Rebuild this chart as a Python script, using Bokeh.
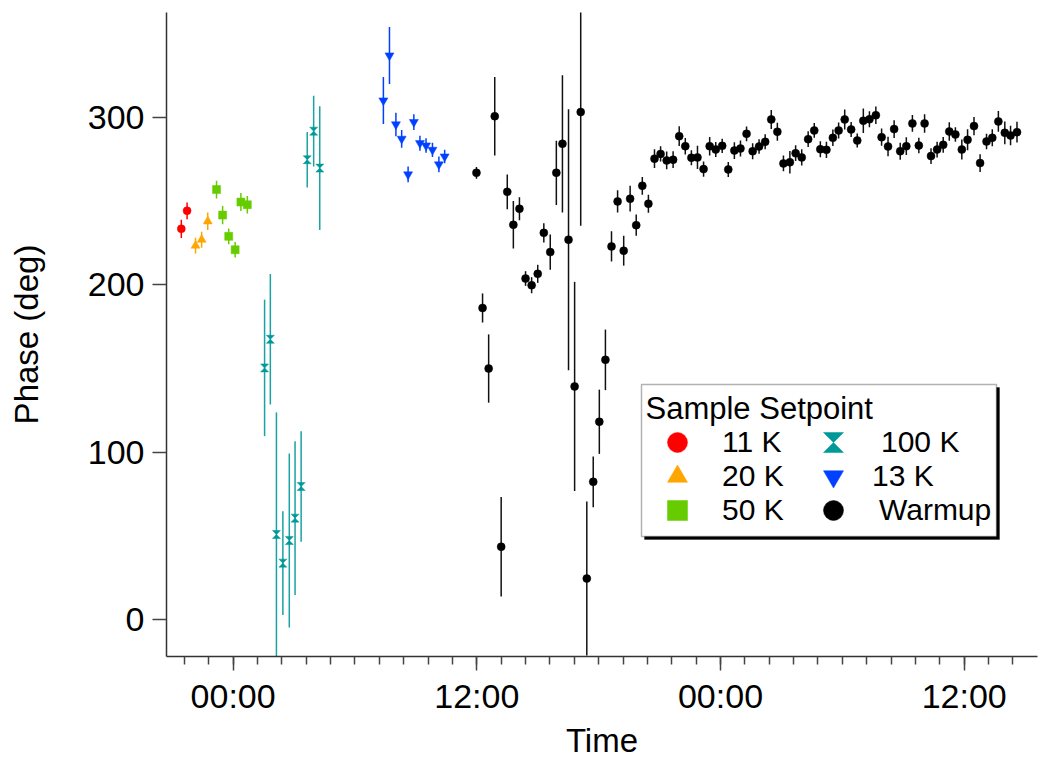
import numpy as np
import pandas as pd
from bokeh.plotting import figure
from bokeh.models import (Range1d, FixedTicker, DatetimeTickFormatter, Legend, LegendItem,
                          BoxAnnotation, Label, CustomJS)
from bokeh.embed import file_html
from bokeh.resources import INLINE

# ---------------- data ----------------
t_11K = ["2021-02-28 21:27", "2021-02-28 21:44"]
v_11K = [233.5, 244.3]
e_11K = [5.5, 5.0]

t_20K = ["2021-02-28 22:09", "2021-02-28 22:27", "2021-02-28 22:45"]
v_20K = [223.5, 227.0, 238.0]
e_20K = [4.7, 4.8, 5.2]

t_50K = ["2021-02-28 23:11", "2021-02-28 23:29", "2021-02-28 23:47",
         "2021-03-01 00:06", "2021-03-01 00:23", "2021-03-01 00:42"]
v_50K = [257.0, 241.7, 229.0, 221.0, 249.5, 247.9]
e_50K = [5.3, 5.5, 4.7, 4.7, 5.4, 5.2]

t_100K = ["2021-03-01 01:33", "2021-03-01 01:50", "2021-03-01 02:08", "2021-03-01 02:27",
          "2021-03-01 02:46", "2021-03-01 03:03", "2021-03-01 03:21", "2021-03-01 03:39",
          "2021-03-01 03:58", "2021-03-01 04:16"]
v_100K = [150.4, 167.5, 50.8, 33.7, 47.2, 60.6, 79.5, 274.8, 291.9, 269.8]
e_100K = [40.8, 39.0, 73.0, 31.0, 52.0, 46.0, 33.0, 16.6, 21.2, 37.0]

t_13K = ["2021-03-01 07:24", "2021-03-01 07:42", "2021-03-01 08:01", "2021-03-01 08:18",
         "2021-03-01 08:37", "2021-03-01 08:54", "2021-03-01 09:12", "2021-03-01 09:30",
         "2021-03-01 09:49", "2021-03-01 10:08", "2021-03-01 10:25"]
v_13K = [310.2, 337.1, 295.9, 287.3, 266.0, 297.3, 284.7, 283.3, 280.7, 272.0, 276.7]
e_13K = [14.0, 17.1, 7.0, 5.3, 4.7, 4.7, 4.5, 4.3, 4.3, 4.7, 4.0]

t_warm = [
    "2021-03-01 11:59", "2021-03-01 12:17", "2021-03-01 12:35", "2021-03-01 12:53",
    "2021-03-01 13:12", "2021-03-01 13:30", "2021-03-01 13:48", "2021-03-01 14:06",
    "2021-03-01 14:24", "2021-03-01 14:42", "2021-03-01 15:00", "2021-03-01 15:18",
    "2021-03-01 15:37", "2021-03-01 15:55", "2021-03-01 16:13", "2021-03-01 16:31",
    "2021-03-01 16:49", "2021-03-01 17:07", "2021-03-01 17:25", "2021-03-01 17:44",
    "2021-03-01 18:02", "2021-03-01 18:20", "2021-03-01 18:38", "2021-03-01 18:56",
    "2021-03-01 19:14", "2021-03-01 19:33", "2021-03-01 19:51", "2021-03-01 20:09",
    "2021-03-01 20:27", "2021-03-01 20:45", "2021-03-01 21:03", "2021-03-01 21:21",
    "2021-03-01 21:40", "2021-03-01 21:58", "2021-03-01 22:16", "2021-03-01 22:34",
    "2021-03-01 22:52", "2021-03-01 23:10", "2021-03-01 23:28", "2021-03-01 23:46",
    "2021-03-02 00:05", "2021-03-02 00:23", "2021-03-02 00:41", "2021-03-02 00:59",
    "2021-03-02 01:17", "2021-03-02 01:35", "2021-03-02 01:54", "2021-03-02 02:12",
    "2021-03-02 02:30", "2021-03-02 02:48", "2021-03-02 03:06", "2021-03-02 03:25",
    "2021-03-02 03:42", "2021-03-02 04:00", "2021-03-02 04:19", "2021-03-02 04:37",
    "2021-03-02 04:55", "2021-03-02 05:13", "2021-03-02 05:32", "2021-03-02 05:49",
    "2021-03-02 06:07", "2021-03-02 06:26", "2021-03-02 06:44", "2021-03-02 07:02",
    "2021-03-02 07:20", "2021-03-02 07:39", "2021-03-02 07:56", "2021-03-02 08:15",
    "2021-03-02 08:33", "2021-03-02 08:51", "2021-03-02 09:09", "2021-03-02 09:27",
    "2021-03-02 09:46", "2021-03-02 10:03", "2021-03-02 10:22", "2021-03-02 10:40",
    "2021-03-02 10:58", "2021-03-02 11:16", "2021-03-02 11:34", "2021-03-02 11:53",
    "2021-03-02 12:10", "2021-03-02 12:29", "2021-03-02 12:47", "2021-03-02 13:06",
    "2021-03-02 13:23", "2021-03-02 13:41", "2021-03-02 14:00", "2021-03-02 14:17",
    "2021-03-02 14:36"]
v_warm = [
    267.0, 186.2, 150.0, 300.8, 43.5, 255.6, 235.9, 245.5, 203.8, 199.8,
    206.6, 231.1, 219.6, 267.0, 284.3, 227.0, 139.3, 303.3, 24.5, 82.3,
    118.2, 155.2, 223.0, 249.9, 220.4, 251.5, 235.7, 259.2, 248.5, 275.4,
    278.3, 274.4, 274.8, 288.9, 282.9, 276.0, 276.2, 269.2, 282.9, 280.9,
    283.1, 269.0, 280.3, 281.5, 290.3, 279.9, 282.7, 285.5, 298.9, 291.5,
    272.6, 273.3, 278.7, 276.2, 287.1, 292.3, 281.1, 280.7, 287.9, 292.3,
    298.9, 292.9, 286.3, 298.1, 299.0, 301.4, 288.3, 282.7, 293.1, 279.9,
    282.9, 296.5, 283.3, 296.5, 277.0, 280.9, 283.7, 291.7, 289.9, 280.9,
    286.7, 294.9, 272.8, 285.7, 287.9, 297.7, 290.9, 289.3, 291.3]
e_warm = [
    3.5, 8.7, 20.4, 23.4, 29.7, 10.4, 14.2, 6.9, 4.4, 4.8,
    5.4, 5.7, 10.5, 19.2, 41.0, 78.0, 62.5, 68.0, 46.0, 15.2,
    19.2, 18.1, 9.0, 6.7, 8.9, 7.7, 6.4, 5.3, 5.4, 5.6,
    4.5, 5.3, 5.0, 5.9, 4.9, 4.5, 6.9, 4.5, 5.5, 4.5,
    4.3, 4.5, 5.0, 4.8, 4.4, 4.8, 4.3, 4.5, 5.7, 5.4,
    4.7, 6.7, 4.7, 4.8, 4.7, 4.4, 4.8, 4.9, 4.9, 4.8,
    6.0, 4.5, 4.2, 7.3, 4.8, 5.2, 5.2, 5.8, 5.3, 5.1,
    5.3, 5.0, 4.6, 5.5, 4.7, 4.7, 4.7, 5.5, 4.3, 6.0,
    6.3, 5.5, 5.3, 4.7, 5.1, 6.2, 6.8, 5.8, 6.2]

y_ticks = [0, 100, 200, 300]
x_major = ["2021-03-01 00:00", "2021-03-01 12:00", "2021-03-02 00:00", "2021-03-02 12:00"]

# ---------------- figure ----------------
FONT = "Liberation Sans"
W, H = 1043, 762
FL, FR, FT, FB = 166, 1037, 12, 656          # frame edges on the page
Y0, Y1 = -22.1, 362.8

def to_ms(ts):
    return ((pd.to_datetime(ts) - pd.Timestamp("1970-01-01")) // pd.Timedelta("1ms")).tolist()

day1 = pd.Timestamp("2021-03-01 00:00")
x_start = day1 - pd.Timedelta(hours=3.28)
x_end = day1 + pd.Timedelta(hours=39.61)

p = figure(width=W, height=H, x_axis_type="datetime", output_backend="svg",
           toolbar_location=None,
           x_range=Range1d(x_start, x_end), y_range=Range1d(Y0, Y1),
           min_border_left=FL, min_border_right=W - FR, min_border_top=FT,
           min_border_bottom=H - FB)
p.outline_line_color = None
p.xgrid.grid_line_color = None
p.ygrid.grid_line_color = None

major_ms = to_ms(x_major)
minor_ms = to_ms(pd.date_range("2021-02-28 21:36", periods=35, freq="72min"))
p.xaxis.ticker = FixedTicker(ticks=major_ms, minor_ticks=minor_ms)
p.xaxis.formatter = DatetimeTickFormatter(hours="%H:%M", hourmin="%H:%M", days="%H:%M",
                                          minutes="%H:%M", months="%H:%M", years="%H:%M")
p.yaxis.ticker = FixedTicker(ticks=y_ticks, minor_ticks=[])
for ax in (p.xaxis[0], p.yaxis[0]):
    ax.axis_line_color = "#333333"
    ax.axis_line_width = 1.5
    ax.major_tick_line_color = "#444444"
    ax.major_tick_line_width = 1.5
    ax.major_tick_out = 14
    ax.major_tick_in = 0
    ax.major_label_text_font = FONT
    ax.major_label_text_font_size = "34px"
    ax.major_label_text_color = "black"
    ax.axis_label_text_font = FONT
    ax.axis_label_text_font_size = "33px"
    ax.axis_label_text_font_style = "normal"
    ax.axis_label_text_color = "black"
p.xaxis.minor_tick_line_color = "#444444"
p.xaxis.minor_tick_line_width = 1.5
p.xaxis.minor_tick_out = 8
p.xaxis.minor_tick_in = 0
p.yaxis.minor_tick_line_color = None
p.xaxis.axis_label = "Time"
p.yaxis.axis_label = "Phase (deg)"
p.xaxis.major_label_standoff = 6
p.xaxis.axis_label_standoff = 4
p.yaxis.major_label_standoff = 8
p.yaxis.axis_label_standoff = 40

def errbars(times, vals, errs, color):
    t = pd.to_datetime(times)
    v = np.array(vals)
    e = np.array(errs)
    p.segment(x0=t, y0=v - e, x1=t, y1=v + e, line_color=color, line_width=1.5)

errbars(t_11K, v_11K, e_11K, "#ff0000")
errbars(t_20K, v_20K, e_20K, "#ffa500")
errbars(t_50K, v_50K, e_50K, "#66cc00")
errbars(t_100K, v_100K, e_100K, "#1aa3a3")
errbars(t_13K, v_13K, e_13K, "#0040ff")
errbars(t_warm, v_warm, e_warm, "#111111")

# hourglass marker: two triangles meeting at the point, painted directly
HOURGLASS = CustomJS(code="""
export default (args, obj, {ctx, i, r, visuals}) => {
  ctx.beginPath()
  ctx.moveTo(-r, -r)
  ctx.lineTo(r, -r)
  ctx.lineTo(0, 0)
  ctx.lineTo(r, r)
  ctx.lineTo(-r, r)
  ctx.lineTo(0, 0)
  ctx.closePath()
  visuals.fill.apply(ctx, i)
  visuals.hatch.apply(ctx, i)
  visuals.line.apply(ctx, i)
}
""")

def pts(times, vals, marker, size, color, **kw):
    return p.scatter(x=pd.to_datetime(times), y=vals, marker=marker, size=size,
                     fill_color=color, line_color=color, line_width=0.5, **kw)

r11 = pts(t_11K, v_11K, "circle", 8, "#ff0000")
r20 = pts(t_20K, v_20K, "triangle", 9, "#ffa500")
r50 = pts(t_50K, v_50K, "square", 8, "#66cc00")
r100 = pts(t_100K, v_100K, "@hourglass", 8, "#009999", defs={"@hourglass": HOURGLASS})
r13 = pts(t_13K, v_13K, "inverted_triangle", 9, "#0040ff")
rW = pts(t_warm, v_warm, "circle", 8, "black")

# ---------------- legend ----------------
def box(l, r, t, b, **kw):
    return BoxAnnotation(left=l - FL, right=r - FL, top=FB - t, bottom=FB - b,
                         left_units="screen", right_units="screen", top_units="screen",
                         bottom_units="screen", **kw)

p.add_layout(box(644, 999, 387, 539, fill_color="black", fill_alpha=1, line_color="black"))
p.add_layout(box(641, 996, 384, 536, fill_color="white", fill_alpha=1,
                 line_color="black", line_width=1.5))
p.add_layout(Label(x=645 - FL, y=FB - 408, x_units="screen", y_units="screen",
                   text="Sample Setpoint", text_font=FONT, text_font_size="31px",
                   text_baseline="middle", text_color="black"))

GL = 50
def row(label, rends, cx, cy, standoff):
    leg = Legend(items=[LegendItem(label=label, renderers=rends)],
                 location=(cx - GL / 2 - FL, FB - (cy + GL / 2)), orientation="vertical",
                 glyph_width=GL, glyph_height=GL, spacing=0, label_standoff=standoff,
                 padding=0, margin=0, label_text_font=FONT, label_text_font_size="30px",
                 label_text_color="black", background_fill_alpha=0, border_line_color=None)
    p.add_layout(leg)

row("11 K", [r11], 677, 442, 20)
row("20 K", [r20], 677, 476, 20)
row("50 K", [r50], 677, 510, 20)
row("100 K", [r100], 833, 442, 23)
row("13 K", [r13], 833, 476, 14)
row("Warmup", [rW], 833, 510, 21)

open("out.html", "w").write(file_html(p, INLINE))
